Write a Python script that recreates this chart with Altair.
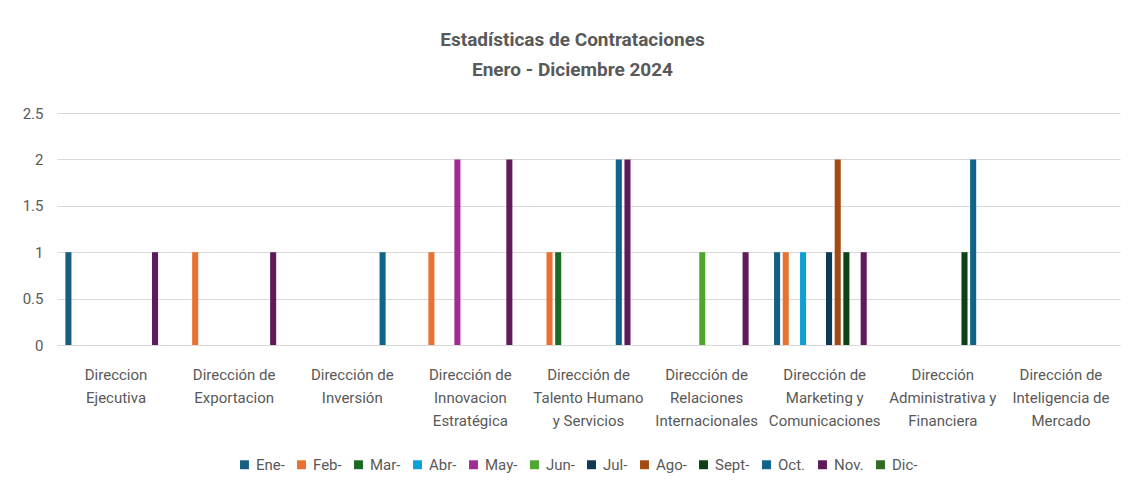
import altair as alt
import pandas as pd

categories = [
    "Direccion\nEjecutiva",
    "Dirección de\nExportacion",
    "Dirección de\nInversión",
    "Dirección de\nInnovacion\nEstratégica",
    "Dirección de\nTalento Humano\ny Servicios",
    "Dirección de\nRelaciones\nInternacionales",
    "Dirección de\nMarketing y\nComunicaciones",
    "Dirección\nAdministrativa y\nFinanciera",
    "Dirección de\nInteligencia de\nMercado",
]

months = ["Ene-", "Feb-", "Mar-", "Abr-", "May-", "Jun-", "Jul-", "Ago-", "Sept-", "Oct.", "Nov.", "Dic-"]

ene = [1, 0, 0, 0, 0, 0, 1, 0, 0]
feb = [0, 1, 0, 1, 1, 0, 1, 0, 0]
mar = [0, 0, 0, 0, 1, 0, 0, 0, 0]
abr = [0, 0, 0, 0, 0, 0, 1, 0, 0]
may = [0, 0, 0, 2, 0, 0, 0, 0, 0]
jun = [0, 0, 0, 0, 0, 1, 0, 0, 0]
jul = [0, 0, 0, 0, 0, 0, 1, 0, 0]
ago = [0, 0, 0, 0, 0, 0, 2, 0, 0]
sept = [0, 0, 0, 0, 0, 0, 1, 1, 0]
octu = [0, 0, 1, 0, 2, 0, 0, 2, 0]
nov = [1, 1, 0, 2, 2, 1, 1, 0, 0]
dic = [0, 0, 0, 0, 0, 0, 0, 0, 0]

series = [ene, feb, mar, abr, may, jun, jul, ago, sept, octu, nov, dic]

colors = ["#156082", "#E97132", "#196B24", "#0F9ED5", "#A02B93", "#4EA72E",
          "#0E3A56", "#A34A12", "#0E4216", "#10648A", "#5F1A5A", "#2F6B22"]

rows = []
for m, vals in zip(months, series):
    for c, v in zip(categories, vals):
        rows.append({"cat": c, "mes": m, "valor": v})
df = pd.DataFrame(rows)

FONT = "Liberation Sans Narrow, Roboto, sans-serif"
GRAY = "#595959"

chart = alt.Chart(df).mark_bar().encode(
    x=alt.X("cat:N", sort=categories, title=None,
            scale=alt.Scale(paddingInner=0.12, paddingOuter=0.06),
            axis=alt.Axis(labelExpr="split(datum.label, '\\n')", labelAngle=0,
                          labelFontSize=15, labelLineHeight=23, labelPadding=22,
                          labelColor=GRAY, ticks=False, domain=True,
                          domainColor="#D9D9D9", labelFont=FONT)),
    xOffset=alt.XOffset("mes:N", sort=months,
                        scale=alt.Scale(domain=months, paddingInner=0.3, paddingOuter=0.15)),
    y=alt.Y("valor:Q", title=None,
            scale=alt.Scale(domain=[0, 2.5]),
            axis=alt.Axis(values=[0, 0.5, 1, 1.5, 2, 2.5], format="~g",
                          labelFontSize=15, labelColor=GRAY, labelPadding=14,
                          ticks=False, domain=False, gridColor="#D9D9D9",
                          labelFont=FONT)),
    color=alt.Color("mes:N", sort=months,
                    scale=alt.Scale(domain=months, range=colors),
                    legend=alt.Legend(title=None, orient="none", direction="horizontal",
                                      legendX=180, legendY=344,
                                      symbolType="square", symbolSize=80,
                                      symbolStrokeWidth=0,
                                      labelFontSize=15, labelColor=GRAY, labelFont=FONT,
                                      columnPadding=9, labelOffset=4)),
).properties(
    width=1063,
    height=232,
    title=alt.TitleParams(["Estadísticas de Contrataciones", "Enero - Diciembre 2024"],
                          fontSize=19, fontWeight="bold", color=GRAY, font=FONT,
                          lineHeight=30, anchor="middle", offset=26, dx=-16),
    autosize=alt.AutoSizeParams(type="none"),
    padding={"left": 49, "top": 105, "right": 2, "bottom": 145},
).configure_view(stroke=None)

chart.save("out.html", embed_options={"renderer": "svg", "actions": False})
